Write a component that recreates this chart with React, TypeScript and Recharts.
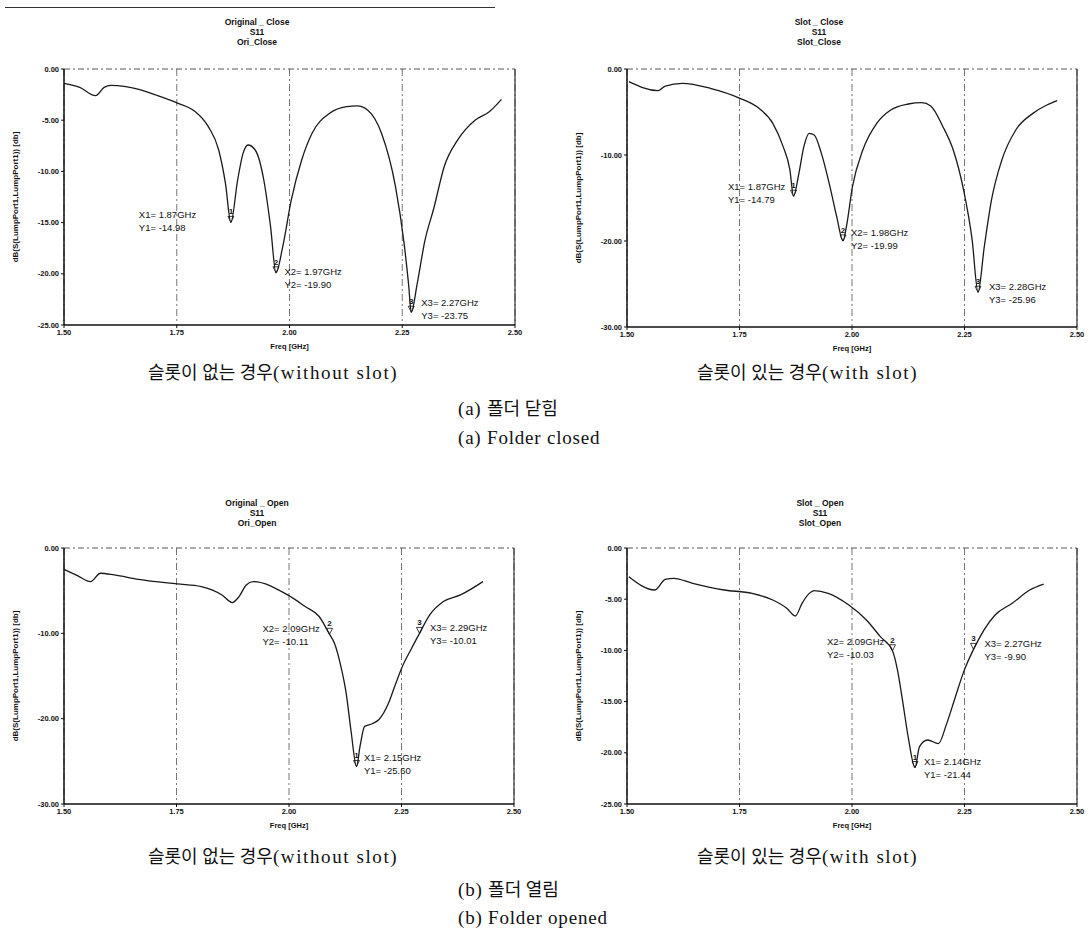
import React from "react";
import {
  CartesianGrid,
  Line,
  LineChart,
  ReferenceDot,
  ReferenceLine,
  XAxis,
  YAxis
} from "recharts";

const freqTicks = [1.5, 1.75, 2.0, 2.25, 2.5];
const ticks25 = [0, -5, -10, -15, -20, -25];
const ticks30 = [0, -10, -20, -30];

// Original, folder closed
const oriCloseFreq = [1.5, 1.535, 1.57, 1.589, 1.604, 1.666, 1.704, 1.753, 1.789, 1.82, 1.843, 1.858, 1.87, 1.885, 1.897, 1.908, 1.924, 1.943, 1.958, 1.97, 1.985, 2.004, 2.027, 2.05, 2.089, 2.127, 2.15, 2.173, 2.204, 2.235, 2.254, 2.264, 2.27, 2.283, 2.3, 2.32, 2.343, 2.373, 2.412, 2.443, 2.47];
const oriCloseDb = [-1.4, -1.79, -2.6, -1.79, -1.6, -1.99, -2.54, -3.35, -4.1, -5.63, -7.91, -11.17, -14.98, -10.84, -8.24, -7.42, -7.91, -10.84, -15.4, -19.9, -17.35, -12.79, -8.89, -6.28, -4.33, -3.68, -3.61, -4.0, -6.28, -11.49, -17.0, -21.0, -23.75, -21.0, -16.8, -13.6, -9.54, -6.93, -4.98, -4.17, -2.96];
const oriCloseMarkerFreq = [1.87, 1.97, 2.27];
const oriCloseMarkerDb = [-14.98, -19.9, -23.75];

// Slot, folder closed
const slotCloseFreq = [1.504, 1.569, 1.585, 1.623, 1.685, 1.751, 1.793, 1.824, 1.847, 1.862, 1.87, 1.882, 1.893, 1.905, 1.916, 1.932, 1.951, 1.966, 1.98, 1.988, 2.001, 2.024, 2.055, 2.086, 2.125, 2.155, 2.175, 2.202, 2.225, 2.248, 2.267, 2.28, 2.294, 2.31, 2.333, 2.364, 2.402, 2.433, 2.456];
const slotCloseDb = [-1.47, -2.52, -1.98, -1.67, -2.25, -3.41, -4.57, -6.32, -9.03, -11.74, -14.79, -12.13, -9.03, -7.48, -7.67, -9.81, -13.68, -17.17, -19.99, -18.2, -13.68, -9.42, -6.32, -4.77, -4.07, -3.91, -4.3, -6.71, -9.42, -14.07, -19.88, -25.96, -20.66, -15.23, -10.58, -7.09, -5.16, -4.19, -3.68];
const slotCloseMarkerFreq = [1.87, 1.98, 2.28];
const slotCloseMarkerDb = [-14.79, -19.99, -25.96];

// Original, folder opened
const oriOpenFreq = [1.5, 1.531, 1.559, 1.581, 1.612, 1.666, 1.751, 1.805, 1.851, 1.874, 1.889, 1.905, 1.92, 1.997, 2.036, 2.067, 2.09, 2.101, 2.117, 2.127, 2.138, 2.15, 2.158, 2.168, 2.185, 2.2, 2.221, 2.235, 2.251, 2.272, 2.29, 2.312, 2.343, 2.381, 2.431];
const oriOpenDb = [-2.5, -3.27, -3.94, -2.96, -3.16, -3.67, -4.21, -4.52, -5.5, -6.39, -5.69, -4.33, -3.94, -5.5, -6.86, -8.03, -10.11, -11.15, -14.27, -17.0, -21.5, -25.6, -23.2, -20.9, -20.6, -20.1, -18.2, -16.2, -14.0, -11.8, -10.01, -7.9, -6.28, -5.5, -3.94];
const oriOpenMarkerFreq = [2.15, 2.09, 2.29];
const oriOpenMarkerDb = [-25.6, -10.11, -10.01];

// Slot, folder opened
const slotOpenFreq = [1.504, 1.562, 1.585, 1.604, 1.646, 1.716, 1.778, 1.824, 1.855, 1.874, 1.889, 1.905, 1.916, 1.947, 1.993, 2.032, 2.063, 2.09, 2.101, 2.112, 2.125, 2.14, 2.15, 2.168, 2.192, 2.21, 2.23, 2.249, 2.27, 2.318, 2.356, 2.395, 2.426];
const slotOpenDb = [-2.8, -4.1, -3.06, -2.96, -3.45, -4.1, -4.43, -5.08, -5.89, -6.64, -5.4, -4.43, -4.17, -4.43, -5.57, -7.03, -8.66, -10.03, -11.9, -14.8, -18.5, -21.44, -19.4, -18.75, -19.1, -17.2, -14.5, -12.0, -9.9, -6.54, -5.4, -4.1, -3.52];
const slotOpenMarkerFreq = [2.14, 2.09, 2.27];
const slotOpenMarkerDb = [-21.44, -10.03, -9.9];

const axisFont = "'Liberation Sans', Arial, sans-serif";
const serifFont = "'Liberation Serif', 'Noto Sans CJK KR', serif";

type MarkerLayout = { id: number; dx: number; dy: number };

function MarkerShape(props: any) {
  const { cx, cy, id, freq, db, dx, dy } = props;
  const tx = cx + dx;
  return (
    <g fontFamily={axisFont} fill="#111">
      <path
        d={`M${cx - 3},${cy - 6} L${cx + 3},${cy - 6} L${cx},${cy} Z`}
        fill="none"
        stroke="#111"
        strokeWidth={0.8}
      />
      <text x={cx} y={cy - 8} fontSize={8} fontWeight="bold" textAnchor="middle">
        {id}
      </text>
      <text x={tx} y={cy + dy} fontSize={9.5} dominantBaseline="central">
        {`X${id}= ${freq.toFixed(2)}GHz`}
      </text>
      <text x={tx} y={cy + dy + 13} fontSize={9.5} dominantBaseline="central">
        {`Y${id}= ${db.toFixed(2)}`}
      </text>
    </g>
  );
}

function YLabel(props: any) {
  const { viewBox, lx } = props;
  const cy = viewBox.y + viewBox.height / 2;
  return (
    <text
      x={lx}
      y={cy}
      transform={`rotate(-90 ${lx} ${cy})`}
      textAnchor="middle"
      dominantBaseline="central"
      fontSize={8}
      fontWeight="bold"
      fontFamily={axisFont}
      fill="#111"
    >
      dB(S(LumpPort1,LumpPort1)) [db]
    </text>
  );
}

interface PanelProps {
  left: number;
  top: number;
  width: number;
  yAxisWidth: number;
  margin: { top: number; right: number; bottom: number; left: number };
  freq: number[];
  db: number[];
  yMin: number;
  yTicks: number[];
  markerFreq: number[];
  markerDb: number[];
  markerLayout: MarkerLayout[];
  titles: string[];
  titleX: number;
  titleY: number;
  yLabelX: number;
}

function Panel(p: PanelProps) {
  const data = p.freq.map((f, i) => ({ f, db: p.db[i] }));
  return (
    <>
      <div
        style={{
          position: "absolute",
          left: p.titleX - 100,
          top: p.titleY,
          width: 200,
          textAlign: "center",
          fontFamily: axisFont,
          fontWeight: "bold",
          fontSize: 8.5,
          lineHeight: "10px",
          color: "#111"
        }}
      >
        {p.titles.map((t) => (
          <div key={t}>{t}</div>
        ))}
      </div>
      <div style={{ position: "absolute", left: p.left, top: p.top }}>
        <LineChart width={p.width} height={360} data={data} margin={p.margin}>
          <CartesianGrid horizontal={false} stroke="#777" strokeDasharray="7 3 2 3" />
          <XAxis
            dataKey="f"
            type="number"
            domain={[1.5, 2.5]}
            ticks={freqTicks}
            interval={0}
            tickFormatter={(v: number) => v.toFixed(2)}
            tick={{ fontSize: 7.5, fontWeight: "bold", fill: "#111", fontFamily: axisFont }}
            tickSize={3}
            tickMargin={2}
            height={28}
            axisLine={{ stroke: "#111", strokeWidth: 1.5 }}
            tickLine={{ stroke: "#111" }}
            label={{
              value: "Freq [GHz]",
              position: "insideBottom",
              offset: 4,
              fontSize: 7.5,
              fontWeight: "bold",
              fill: "#111",
              fontFamily: axisFont
            }}
          />
          <YAxis
            type="number"
            domain={[p.yMin, 0]}
            ticks={p.yTicks}
            interval={0}
            width={p.yAxisWidth}
            tickFormatter={(v: number) => v.toFixed(2)}
            tick={{ fontSize: 7.5, fontWeight: "bold", fill: "#111", fontFamily: axisFont }}
            tickSize={3}
            tickMargin={2}
            axisLine={{ stroke: "#111", strokeWidth: 1.5 }}
            tickLine={{ stroke: "#111" }}
            label={<YLabel lx={p.yLabelX} />}
          />
          <ReferenceLine y={0} stroke="#555" strokeDasharray="6 3 2 3" />
          <ReferenceLine x={2.5} stroke="#333" strokeWidth={1.2} />
          <Line
            dataKey="db"
            type="monotone"
            stroke="#1a1a1a"
            strokeWidth={1.3}
            dot={false}
            isAnimationActive={false}
          />
          {p.markerLayout.map((m, i) => (
            <ReferenceDot
              key={m.id}
              x={p.markerFreq[i]}
              y={p.markerDb[i]}
              r={3}
              shape={(sp: any) => (
                <MarkerShape
                  cx={sp.cx}
                  cy={sp.cy}
                  id={m.id}
                  freq={p.markerFreq[i]}
                  db={p.markerDb[i]}
                  dx={m.dx}
                  dy={m.dy}
                />
              )}
            />
          ))}
        </LineChart>
      </div>
    </>
  );
}

const captionStyle: React.CSSProperties = {
  position: "absolute",
  fontFamily: serifFont,
  fontSize: 18,
  color: "#111",
  whiteSpace: "nowrap",
  lineHeight: "20px"
};

const latin: React.CSSProperties = { fontSize: 19, letterSpacing: 1.6 };
const latinLine: React.CSSProperties = { fontSize: 19, letterSpacing: 0.8 };

export default function App() {
  return (
    <div
      style={{
        position: "absolute",
        left: 0,
        top: 0,
        width: 1088,
        height: 932,
        background: "#fff",
        overflow: "hidden"
      }}
    >
      <div style={{ position: "absolute", left: 5, top: 7, width: 490, borderTop: "1px solid #333" }} />

      <Panel
        left={0}
        top={0}
        width={540}
        yAxisWidth={64}
        margin={{ top: 69, right: 25, bottom: 7, left: 0 }}
        freq={oriCloseFreq}
        db={oriCloseDb}
        yMin={-25}
        yTicks={ticks25}
        markerFreq={oriCloseMarkerFreq}
        markerDb={oriCloseMarkerDb}
        markerLayout={[
          { id: 1, dx: -92, dy: -8 },
          { id: 2, dx: 8.5, dy: -1 },
          { id: 3, dx: 10, dy: -10 }
        ]}
        titles={["Original _ Close", "S11", "Ori_Close"]}
        titleX={257}
        titleY={17}
        yLabelX={15.6}
      />
      <Panel
        left={544}
        top={0}
        width={544}
        yAxisWidth={83}
        margin={{ top: 69, right: 11, bottom: 5, left: 0 }}
        freq={slotCloseFreq}
        db={slotCloseDb}
        yMin={-30}
        yTicks={ticks30}
        markerFreq={slotCloseMarkerFreq}
        markerDb={slotCloseMarkerDb}
        markerLayout={[
          { id: 1, dx: -65.5, dy: -10 },
          { id: 2, dx: 8, dy: -8 },
          { id: 3, dx: 11, dy: -5.6 }
        ]}
        titles={["Slot _ Close", "S11", "Slot_Close"]}
        titleX={819}
        titleY={17}
        yLabelX={34.7}
      />
      <Panel
        left={0}
        top={480}
        width={540}
        yAxisWidth={64}
        margin={{ top: 68, right: 26, bottom: 8, left: 0 }}
        freq={oriOpenFreq}
        db={oriOpenDb}
        yMin={-30}
        yTicks={ticks30}
        markerFreq={oriOpenMarkerFreq}
        markerDb={oriOpenMarkerDb}
        markerLayout={[
          { id: 1, dx: 7.5, dy: -8.5 },
          { id: 2, dx: -67, dy: -6 },
          { id: 3, dx: 10.5, dy: -5.5 }
        ]}
        titles={["Original _ Open", "S11", "Ori_Open"]}
        titleX={257}
        titleY={498}
        yLabelX={15.6}
      />
      <Panel
        left={544}
        top={480}
        width={544}
        yAxisWidth={83}
        margin={{ top: 68, right: 11, bottom: 8, left: 0 }}
        freq={slotOpenFreq}
        db={slotOpenDb}
        yMin={-25}
        yTicks={ticks25}
        markerFreq={slotOpenMarkerFreq}
        markerDb={slotOpenMarkerDb}
        markerLayout={[
          { id: 1, dx: 9, dy: -6 },
          { id: 2, dx: -65.5, dy: -9 },
          { id: 3, dx: 11, dy: -6 }
        ]}
        titles={["Slot _ Open", "S11", "Slot_Open"]}
        titleX={820}
        titleY={498}
        yLabelX={34.7}
      />

      <div style={{ ...captionStyle, left: 148, top: 363 }}>
        슬롯이 없는 경우<span style={latin}>(without slot)</span>
      </div>
      <div style={{ ...captionStyle, left: 697, top: 363 }}>
        슬롯이 있는 경우<span style={latin}>(with slot)</span>
      </div>
      <div style={{ ...captionStyle, left: 458, top: 399 }}>
        <span style={latinLine}>(a) </span>폴더 닫힘
      </div>
      <div style={{ ...captionStyle, ...latinLine, left: 458, top: 428 }}>(a) Folder closed</div>

      <div style={{ ...captionStyle, left: 148, top: 847 }}>
        슬롯이 없는 경우<span style={latin}>(without slot)</span>
      </div>
      <div style={{ ...captionStyle, left: 697, top: 847 }}>
        슬롯이 있는 경우<span style={latin}>(with slot)</span>
      </div>
      <div style={{ ...captionStyle, left: 458, top: 880 }}>
        <span style={latinLine}>(b) </span>폴더 열림
      </div>
      <div style={{ ...captionStyle, ...latinLine, left: 458, top: 908 }}>(b) Folder opened</div>
    </div>
  );
}
